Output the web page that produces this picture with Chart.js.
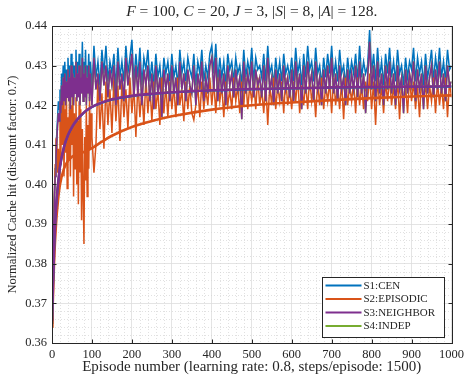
<!DOCTYPE html>
<html>
<head>
<meta charset="utf-8">
<script src="https://cdn.jsdelivr.net/npm/chart.js@4.4.0/dist/chart.umd.min.js"></script>
<style>
  html, body { margin: 0; padding: 0; background: #fff; }
</style>
</head>
<body>
<canvas id="myChart" width="468" height="376"></canvas>
<script>
// noisy curves: read every 2 episodes up to 98, then every 5 episodes from 100
const EARLY_STEP = 2;
const LATE_START = 100;
const LATE_STEP = 5;

const cenEarly = [
  0.365, 0.378, 0.390, 0.398, 0.404, 0.409, 0.413, 0.417, 0.421, 0.419,
  0.424, 0.421, 0.428, 0.423, 0.430, 0.425, 0.431, 0.424, 0.429, 0.426,
  0.432, 0.425, 0.430, 0.424, 0.433, 0.426, 0.431, 0.423, 0.430, 0.427,
  0.434, 0.425, 0.431, 0.426, 0.433, 0.424, 0.430, 0.427, 0.436, 0.425,
  0.431, 0.426, 0.434, 0.424, 0.430, 0.427, 0.433, 0.425, 0.431, 0.428
];
const cenLate = [
  0.4230, 0.4350, 0.4270, 0.4310, 0.4250, 0.4340, 0.4280, 0.4350, 0.4260, 0.4310,
  0.4280, 0.4330, 0.4240, 0.4345, 0.4270, 0.4310, 0.4260, 0.4350, 0.4280, 0.4320,
  0.4365, 0.4260, 0.4330, 0.4270, 0.4345, 0.4250, 0.4320, 0.4290, 0.4340, 0.4260,
  0.4310, 0.4250, 0.4330, 0.4270, 0.4300, 0.4240, 0.4320, 0.4280, 0.4310, 0.4260,
  0.4330, 0.4270, 0.4300, 0.4250, 0.4340, 0.4280, 0.4310, 0.4260, 0.4320, 0.4290,
  0.4270, 0.4330, 0.4250, 0.4310, 0.4280, 0.4340, 0.4260, 0.4300, 0.4270, 0.4330,
  0.4350, 0.4280, 0.4355, 0.4260, 0.4320, 0.4270, 0.4310, 0.4250, 0.4330, 0.4290,
  0.4310, 0.4260, 0.4320, 0.4280, 0.4300, 0.4250, 0.4340, 0.4270, 0.4310, 0.4280,
  0.4345, 0.4260, 0.4320, 0.4290, 0.4300, 0.4270, 0.4330, 0.4260, 0.4350, 0.4280,
  0.4300, 0.4250, 0.4320, 0.4270, 0.4310, 0.4260, 0.4330, 0.4280, 0.4300, 0.4270,
  0.4320, 0.4260, 0.4345, 0.4280, 0.4310, 0.4250, 0.4330, 0.4270, 0.4350, 0.4290,
  0.4310, 0.4260, 0.4345, 0.4280, 0.4300, 0.4250, 0.4320, 0.4270, 0.4330, 0.4280,
  0.4350, 0.4270, 0.4310, 0.4260, 0.4340, 0.4280, 0.4300, 0.4250, 0.4320, 0.4270,
  0.4310, 0.4280, 0.4330, 0.4260, 0.4350, 0.4270, 0.4310, 0.4280, 0.4300, 0.4390,
  0.4280, 0.4330, 0.4260, 0.4345, 0.4270, 0.4310, 0.4250, 0.4330, 0.4280, 0.4345,
  0.4270, 0.4310, 0.4260, 0.4340, 0.4280, 0.4300, 0.4250, 0.4320, 0.4270, 0.4310,
  0.4290, 0.4345, 0.4260, 0.4320, 0.4280, 0.4310, 0.4250, 0.4330, 0.4270, 0.4300,
  0.4340, 0.4260, 0.4320, 0.4280, 0.4345, 0.4270, 0.4310, 0.4260, 0.4340, 0.4290,
  0.4300
];

const episodicEarly = [
  0.364, 0.372, 0.388, 0.398, 0.405, 0.4115, 0.4115, 0.403, 0.409, 0.400,
  0.418, 0.405, 0.421, 0.410, 0.424, 0.402, 0.419, 0.408, 0.425, 0.399,
  0.417, 0.406, 0.423, 0.402, 0.420, 0.410, 0.426, 0.397, 0.418, 0.404,
  0.422, 0.400, 0.416, 0.395, 0.421, 0.403, 0.419, 0.391, 0.414, 0.398,
  0.385, 0.412, 0.401, 0.420, 0.397, 0.415, 0.404, 0.422, 0.409, 0.418
];
const episodicLate = [
  0.4120, 0.4030, 0.4100, 0.4270, 0.4140, 0.4230, 0.4090, 0.4260, 0.4150, 0.4240,
  0.4130, 0.4270, 0.4160, 0.4250, 0.4110, 0.4260, 0.4170, 0.4240, 0.4140, 0.4270,
  0.4180, 0.4250, 0.4120, 0.4260, 0.4170, 0.4240, 0.4150, 0.4270, 0.4180, 0.4250,
  0.4160, 0.4260, 0.4190, 0.4240, 0.4150, 0.4270, 0.4180, 0.4250, 0.4170, 0.4260,
  0.4190, 0.4250, 0.4170, 0.4270, 0.4200, 0.4240, 0.4160, 0.4260, 0.4190, 0.4250,
  0.4180, 0.4163, 0.4200, 0.4250, 0.4170, 0.4260, 0.4190, 0.4240, 0.4200, 0.4270,
  0.4200, 0.4260, 0.4180, 0.4270, 0.4210, 0.4250, 0.4170, 0.4260, 0.4200, 0.4240,
  0.4190, 0.4270, 0.4210, 0.4250, 0.4180, 0.4260, 0.4200, 0.4270, 0.4190, 0.4250,
  0.4210, 0.4260, 0.4190, 0.4270, 0.4200, 0.4240, 0.4180, 0.4260, 0.4150, 0.4250,
  0.4200, 0.4270, 0.4190, 0.4250, 0.4210, 0.4260, 0.4180, 0.4270, 0.4200, 0.4240,
  0.4190, 0.4260, 0.4210, 0.4270, 0.4180, 0.4250, 0.4200, 0.4260, 0.4190, 0.4270,
  0.4210, 0.4250, 0.4170, 0.4260, 0.4200, 0.4270, 0.4190, 0.4250, 0.4210, 0.4260,
  0.4180, 0.4270, 0.4200, 0.4250, 0.4190, 0.4260, 0.4165, 0.4270, 0.4200, 0.4250,
  0.4210, 0.4260, 0.4180, 0.4270, 0.4200, 0.4250, 0.4190, 0.4260, 0.4210, 0.4280,
  0.4190, 0.4260, 0.4150, 0.4270, 0.4200, 0.4250, 0.4180, 0.4260, 0.4210, 0.4270,
  0.4200, 0.4250, 0.4190, 0.4270, 0.4165, 0.4260, 0.4200, 0.4250, 0.4180, 0.4270,
  0.4210, 0.4260, 0.4190, 0.4250, 0.4170, 0.4270, 0.4200, 0.4260, 0.4190, 0.4250,
  0.4210, 0.4270, 0.4180, 0.4260, 0.4200, 0.4250, 0.4190, 0.4270, 0.4170, 0.4260,
  0.4220
];

const neighborEarly = [
  0.366, 0.377, 0.388, 0.396, 0.402, 0.407, 0.411, 0.415, 0.418, 0.416,
  0.421, 0.418, 0.425, 0.420, 0.427, 0.421, 0.428, 0.420, 0.426, 0.422,
  0.429, 0.421, 0.427, 0.419, 0.430, 0.422, 0.428, 0.420, 0.427, 0.423,
  0.431, 0.421, 0.428, 0.422, 0.430, 0.420, 0.427, 0.423, 0.432, 0.421,
  0.428, 0.422, 0.430, 0.420, 0.427, 0.423, 0.430, 0.421, 0.428, 0.424
];
const neighborLate = [
  0.4200, 0.4320, 0.4240, 0.4280, 0.4210, 0.4310, 0.4250, 0.4300, 0.4220, 0.4290,
  0.4250, 0.4300, 0.4200, 0.4310, 0.4240, 0.4280, 0.4210, 0.4320, 0.4250, 0.4290,
  0.4330, 0.4220, 0.4300, 0.4230, 0.4310, 0.4200, 0.4290, 0.4250, 0.4300, 0.4210,
  0.4280, 0.4190, 0.4300, 0.4230, 0.4270, 0.4170, 0.4290, 0.4240, 0.4280, 0.4210,
  0.4300, 0.4230, 0.4270, 0.4200, 0.4310, 0.4240, 0.4280, 0.4210, 0.4290, 0.4250,
  0.4230, 0.4300, 0.4200, 0.4280, 0.4240, 0.4310, 0.4210, 0.4270, 0.4230, 0.4300,
  0.4320, 0.4240, 0.4320, 0.4210, 0.4290, 0.4230, 0.4280, 0.4200, 0.4300, 0.4250,
  0.4280, 0.4220, 0.4290, 0.4240, 0.4270, 0.4165, 0.4310, 0.4230, 0.4280, 0.4240,
  0.4310, 0.4220, 0.4290, 0.4250, 0.4270, 0.4220, 0.4300, 0.4210, 0.4320, 0.4240,
  0.4270, 0.4200, 0.4290, 0.4230, 0.4280, 0.4210, 0.4300, 0.4240, 0.4270, 0.4220,
  0.4290, 0.4210, 0.4310, 0.4240, 0.4280, 0.4190, 0.4300, 0.4230, 0.4310, 0.4250,
  0.4280, 0.4210, 0.4310, 0.4240, 0.4270, 0.4200, 0.4290, 0.4230, 0.4300, 0.4240,
  0.4320, 0.4230, 0.4280, 0.4210, 0.4300, 0.4240, 0.4270, 0.4200, 0.4290, 0.4230,
  0.4280, 0.4240, 0.4300, 0.4220, 0.4310, 0.4230, 0.4280, 0.4180, 0.4270, 0.4360,
  0.4240, 0.4300, 0.4210, 0.4310, 0.4230, 0.4280, 0.4200, 0.4300, 0.4240, 0.4310,
  0.4230, 0.4280, 0.4200, 0.4300, 0.4240, 0.4270, 0.4180, 0.4290, 0.4230, 0.4280,
  0.4250, 0.4310, 0.4210, 0.4290, 0.4240, 0.4280, 0.4190, 0.4300, 0.4230, 0.4270,
  0.4300, 0.4220, 0.4290, 0.4240, 0.4310, 0.4230, 0.4280, 0.4210, 0.4300, 0.4250,
  0.4260
];

// S4 sits under S3 everywhere in the picture
const indepEarly = neighborEarly;
const indepLate = neighborLate;

// thick fitted curves
const smoothEpisodes = [0, 5, 10, 15, 20, 30, 40, 50, 60, 80, 100, 125, 150, 200, 250, 300, 400, 500, 600, 700, 800, 900, 1000];
const cenSmooth = [0.3654, 0.3829, 0.3939, 0.3999, 0.4044, 0.4094, 0.4124, 0.4144, 0.4159, 0.4181, 0.4195, 0.4206, 0.4214, 0.4223, 0.4228, 0.4232, 0.4237, 0.4240, 0.4242, 0.4244, 0.4245, 0.4246, 0.4247];
const episodicSmooth = [0.3640, 0.3800, 0.3900, 0.3960, 0.4000, 0.4040, 0.4060, 0.4070, 0.4076, 0.4082, 0.4092, 0.4108, 0.4123, 0.4145, 0.4160, 0.4172, 0.4189, 0.4200, 0.4207, 0.4213, 0.4218, 0.4222, 0.4225];
const neighborSmooth = [0.3655, 0.3830, 0.3940, 0.4000, 0.4045, 0.4095, 0.4125, 0.4145, 0.4160, 0.4182, 0.4196, 0.4207, 0.4215, 0.4224, 0.4229, 0.4233, 0.4238, 0.4241, 0.4243, 0.4245, 0.4246, 0.4247, 0.4248];
const indepSmooth = neighborSmooth;

const seriesNames = ["S1:CEN", "S2:EPISODIC", "S3:NEIGHBOR", "S4:INDEP"];
const seriesColors = ["#0072BD", "#D95319", "#7E2F8E", "#77AC30"];

const xTicks = [0, 100, 200, 300, 400, 500, 600, 700, 800, 900, 1000];
const yTicks = [0.36, 0.37, 0.38, 0.39, 0.40, 0.41, 0.42, 0.43, 0.44];

const SERIF = "'Liberation Serif', 'Times New Roman', serif";
const INK = "#262626";

function noisyPoints(early, late) {
  const pts = early.map((v, i) => ({ x: i * EARLY_STEP, y: v }));
  late.forEach((v, i) => pts.push({ x: LATE_START + i * LATE_STEP, y: v }));
  return pts;
}
function smoothPoints(vals) {
  return smoothEpisodes.map((e, i) => ({ x: e, y: vals[i] }));
}

const noisySets = [[cenEarly, cenLate], [episodicEarly, episodicLate], [neighborEarly, neighborLate], [indepEarly, indepLate]];
const smoothSets = [cenSmooth, episodicSmooth, neighborSmooth, indepSmooth];
// lower order = drawn on top (purple over orange over blue)
const noisyOrder = [7, 6, 4, 5];
const smoothOrder = [1, 3, 0, 2];
const smoothWidths = [2, 2.6, 2.6, 2];

const datasets = [];
noisySets.forEach((pair, k) => {
  datasets.push({
    label: seriesNames[k],
    data: noisyPoints(pair[0], pair[1]),
    borderColor: seriesColors[k],
    borderWidth: 1.5,
    pointRadius: 0,
    tension: 0,
    order: noisyOrder[k]
  });
});
smoothSets.forEach((vals, k) => {
  datasets.push({
    label: seriesNames[k] + " fit",
    data: smoothPoints(vals),
    borderColor: seriesColors[k],
    borderWidth: smoothWidths[k],
    pointRadius: 0,
    cubicInterpolationMode: "monotone",
    order: smoothOrder[k]
  });
});

// dotted minor grid, matlab style
const minorGrid = {
  id: "minorGrid",
  beforeDatasetsDraw(chart) {
    const { ctx, chartArea: a, scales: { x, y } } = chart;
    ctx.save();
    ctx.strokeStyle = "#d4d4d4";
    ctx.lineWidth = 0.7;
    ctx.setLineDash([1, 2]);
    for (let v = 20; v < 1000; v += 20) {
      if (v % 100 === 0) continue;
      const px = Math.round(x.getPixelForValue(v)) + 0.5;
      ctx.beginPath(); ctx.moveTo(px, a.top); ctx.lineTo(px, a.bottom); ctx.stroke();
    }
    for (let k = 1; k < 40; k++) {
      if (k % 5 === 0) continue;
      const py = Math.round(y.getPixelForValue(0.36 + k * 0.002)) + 0.5;
      ctx.beginPath(); ctx.moveTo(a.left, py); ctx.lineTo(a.right, py); ctx.stroke();
    }
    ctx.restore();
  }
};

// box with inward ticks on all four sides
const frame = {
  id: "frame",
  afterDatasetsDraw(chart) {
    const { ctx, chartArea: a, scales: { x, y } } = chart;
    const L = Math.round(a.left) + 0.5, R = Math.round(a.right) + 0.5;
    const T = Math.round(a.top) + 0.5, B = Math.round(a.bottom) + 0.5;
    ctx.save();
    ctx.strokeStyle = INK;
    ctx.lineWidth = 1;
    ctx.strokeRect(L, T, R - L, B - T);
    ctx.beginPath();
    xTicks.forEach(v => {
      const px = Math.round(x.getPixelForValue(v)) + 0.5;
      ctx.moveTo(px, B); ctx.lineTo(px, B - 4);
      ctx.moveTo(px, T); ctx.lineTo(px, T + 4);
    });
    yTicks.forEach(v => {
      const py = Math.round(y.getPixelForValue(v)) + 0.5;
      ctx.moveTo(L, py); ctx.lineTo(L + 4, py);
      ctx.moveTo(R, py); ctx.lineTo(R - 4, py);
    });
    ctx.stroke();
    ctx.restore();
  }
};

// latex-like title with italic symbols
const mathTitle = {
  id: "mathTitle",
  afterDraw(chart) {
    const { ctx, chartArea: a } = chart;
    const parts = [
      ["F", true], [" = 100, ", false], ["C", true], [" = 20, ", false],
      ["J", true], [" = 3, |", false], ["S", true], ["| = 8, |", false],
      ["A", true], ["| = 128.", false]
    ];
    const fontOf = it => (it ? "italic " : "") + "15.5px " + SERIF;
    let total = 0;
    parts.forEach(p => { ctx.font = fontOf(p[1]); total += ctx.measureText(p[0]).width; });
    let cx = (a.left + a.right) / 2 - total / 2;
    ctx.save();
    ctx.fillStyle = INK;
    ctx.textBaseline = "middle";
    parts.forEach(p => {
      ctx.font = fontOf(p[1]);
      ctx.fillText(p[0], cx, 12);
      cx += ctx.measureText(p[0]).width;
    });
    ctx.restore();
  }
};

// legend box inside the axes, bottom right
const boxLegend = {
  id: "boxLegend",
  afterDraw(chart) {
    const { ctx, chartArea: a } = chart;
    const w = 122, h = 60;
    const x0 = a.right - 8 - w, y0 = a.bottom - 6 - h;
    ctx.save();
    ctx.fillStyle = "#fff";
    ctx.fillRect(x0, y0, w, h);
    ctx.strokeStyle = INK;
    ctx.lineWidth = 1;
    ctx.strokeRect(Math.round(x0) + 0.5, Math.round(y0) + 0.5, w, h);
    ctx.font = "11px " + SERIF;
    ctx.textBaseline = "middle";
    seriesNames.forEach((name, i) => {
      const ry = y0 + 8.5 + i * 13.5;
      ctx.strokeStyle = seriesColors[i];
      ctx.lineWidth = 2.2;
      ctx.beginPath(); ctx.moveTo(x0 + 4, ry); ctx.lineTo(x0 + 40, ry); ctx.stroke();
      ctx.fillStyle = INK;
      ctx.fillText(name, x0 + 42, ry + 0.5);
    });
    ctx.restore();
  }
};

const ctx = document.getElementById("myChart").getContext("2d");
new Chart(ctx, {
  type: "line",
  data: { datasets: datasets },
  options: {
    responsive: false,
    animation: false,
    layout: { padding: { top: 26, right: 14, left: 0, bottom: 0 } },
    plugins: {
      legend: { display: false },
      title: { display: false },
      tooltip: { enabled: false }
    },
    scales: {
      x: {
        type: "linear",
        min: 0,
        max: 1000,
        afterBuildTicks: s => { s.ticks = xTicks.map(v => ({ value: v })); },
        afterFit: s => { s.height = 33; },
        ticks: {
          color: INK,
          font: { family: SERIF, size: 12.5 },
          padding: 4,
          maxRotation: 0,
          autoSkip: false,
          callback: v => String(v)
        },
        grid: { color: "#dddddd", lineWidth: 0.8, drawTicks: false },
        border: { display: false },
        title: {
          display: true,
          text: "Episode number (learning rate: 0.8, steps/episode: 1500)",
          color: INK,
          font: { family: SERIF, size: 15 },
          padding: { top: 0, bottom: 0 }
        }
      },
      y: {
        type: "linear",
        min: 0.36,
        max: 0.44,
        afterBuildTicks: s => { s.ticks = yTicks.map(v => ({ value: v })); },
        afterFit: s => { s.width = 52; },
        ticks: {
          color: INK,
          font: { family: SERIF, size: 12.5 },
          padding: 5,
          autoSkip: false,
          callback: v => v.toFixed(2)
        },
        grid: { color: "#dddddd", lineWidth: 0.8, drawTicks: false },
        border: { display: false },
        title: {
          display: true,
          text: "Normalized Cache hit (discount factor: 0.7)",
          color: INK,
          font: { family: SERIF, size: 12.5 },
          padding: { top: 5, bottom: 0 }
        }
      }
    }
  },
  plugins: [minorGrid, frame, mathTitle, boxLegend]
});
</script>
</body>
</html>
